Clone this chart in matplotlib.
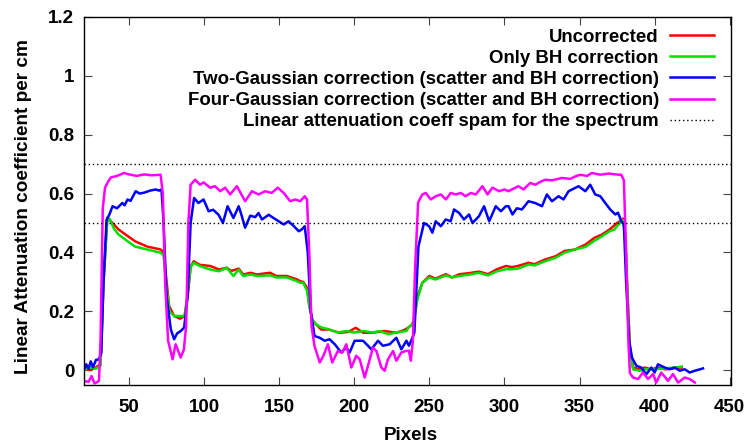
import matplotlib.pyplot as plt

plt.rcParams['font.family'] = ['Liberation Sans', 'DejaVu Sans']
plt.rcParams['font.weight'] = 'bold'

# Uncorrected
x_unc = [20, 24, 28, 31, 33, 35.5, 38, 43, 49, 54, 62, 71, 73, 75, 76.7, 80, 84, 87, 89, 91,
         93, 97, 104, 110, 115, 118, 123, 126, 131, 135, 144, 148, 155, 162, 164, 166, 168.5, 170,
         172, 174.5, 178, 183, 190, 196, 200.9, 206, 212, 220, 228, 233.6, 236, 238.7, 240, 242,
         245.3, 250, 254, 261, 265, 270, 277, 283, 289, 295, 301, 305, 309, 316, 320, 327, 334, 340,
         347, 354, 360, 365, 370, 375, 377, 379, 380.5, 382, 383.5, 385.6, 390, 393, 398, 402, 407,
         412, 418]
y_unc = [0.005, 0.0, 0.01, 0.02, 0.3, 0.518, 0.505, 0.478, 0.456, 0.438, 0.42, 0.41, 0.40, 0.3,
         0.218, 0.184, 0.175, 0.184, 0.25, 0.35, 0.37, 0.358, 0.354, 0.342, 0.348, 0.337, 0.345,
         0.325, 0.331, 0.325, 0.331, 0.32, 0.32, 0.308, 0.302, 0.30, 0.28, 0.22, 0.17, 0.156, 0.138,
         0.138, 0.127, 0.13, 0.144, 0.127, 0.127, 0.133, 0.127, 0.137, 0.145, 0.156, 0.18, 0.25,
         0.297, 0.32, 0.311, 0.326, 0.315, 0.326, 0.33, 0.335, 0.326, 0.343, 0.354, 0.35, 0.354,
         0.365, 0.36, 0.376, 0.387, 0.405, 0.41, 0.427, 0.45, 0.461, 0.478, 0.50, 0.506, 0.515,
         0.45, 0.25, 0.08, 0.009, 0.003, 0.009, 0.003, 0.009, 0.003, 0.006, 0.009]

# Only BH correction
x_bh = [20, 24, 28, 31, 33, 35.5, 37, 40, 43, 49, 54, 62, 71, 73, 75, 77, 80, 84, 87, 89, 91, 93,
        97, 104, 110, 115, 119.5, 123, 126, 131, 135, 144, 148, 155, 162, 164, 166, 168.5, 170, 172,
        174.5, 178, 183, 189, 194.7, 200, 206, 212, 217, 222.5, 228, 234.7, 236, 238.7, 240, 242,
        245.3, 250, 254, 261, 265, 270, 277, 283, 289, 295, 301, 305, 309, 316, 320, 327, 334, 340,
        347, 354, 360, 365, 370, 373.3, 375, 377, 379, 380.5, 382, 383.5, 385.6, 390, 394, 400, 407,
        413, 418]
y_bh = [0.0, 0.01, 0.005, 0.015, 0.3, 0.51, 0.515, 0.48, 0.461, 0.438, 0.42, 0.41, 0.399, 0.39,
        0.28, 0.2, 0.184, 0.184, 0.184, 0.26, 0.35, 0.365, 0.354, 0.342, 0.336, 0.348, 0.32, 0.342,
        0.32, 0.325, 0.32, 0.322, 0.315, 0.315, 0.302, 0.297, 0.297, 0.27, 0.22, 0.17, 0.156, 0.145,
        0.139, 0.128, 0.133, 0.128, 0.133, 0.128, 0.133, 0.122, 0.128, 0.133, 0.145, 0.156, 0.18,
        0.24, 0.297, 0.315, 0.308, 0.322, 0.315, 0.32, 0.325, 0.331, 0.322, 0.336, 0.343, 0.343,
        0.345, 0.359, 0.356, 0.37, 0.382, 0.399, 0.41, 0.419, 0.44, 0.455, 0.472, 0.478, 0.49, 0.5,
        0.51, 0.44, 0.24, 0.07, 0.003, -0.002, 0.003, 0.003, 0.006, 0.009, 0.012]

# Two-Gaussian correction
x_two = [20, 21.5, 23, 24.5, 26, 28, 30, 31.5, 33, 35, 37, 39, 42, 45.5, 47, 49, 51, 54.4, 57, 60,
         64, 67.8, 70, 71.6, 73, 75, 77.8, 80, 82, 84.4, 86.7, 89, 91, 93.3, 96.2, 99.6, 103, 106,
         109.6, 112.5, 115.6, 119.5, 123, 125, 127.3, 130.7, 134, 136.2, 138.5, 143, 146.2, 149.6,
         153, 156.2, 159.6, 163, 165, 167, 169, 171, 173.5, 177, 180.2, 183.5, 187, 191.3, 194.7,
         196.9, 200.2, 205.8, 209.1, 211.3, 215.8, 219, 223.5, 228, 231.3, 234.7, 236.4, 238.7, 240,
         242.7, 246.4, 249.8, 252, 254.2, 257.6, 260.9, 264.2, 266.4, 269.8, 273, 276.4, 278.7, 283,
         286.4, 289.8, 294.2, 297.6, 300.9, 302.7, 305.3, 308.2, 311.6, 316, 320.4, 325, 328.2,
         331.6, 336, 339.3, 342.7, 347, 349.3, 353.8, 357.1, 360.4, 363.8, 367.1, 370.4, 373.8,
         375.6, 377.8, 379.5, 381, 383, 384.9, 387.8, 391, 394.4, 397.8, 400, 402.2, 406.7, 410,
         413.3, 416.7, 420, 423.3, 426.7, 430, 432.2]
y_two = [0.0, 0.02, 0.005, 0.03, 0.01, 0.035, 0.037, 0.06, 0.3, 0.51, 0.53, 0.557, 0.55, 0.568,
         0.56, 0.58, 0.575, 0.608, 0.6, 0.603, 0.61, 0.614, 0.61, 0.614, 0.5, 0.25, 0.139, 0.105,
         0.125, 0.133, 0.145, 0.25, 0.5, 0.585, 0.568, 0.58, 0.54, 0.545, 0.528, 0.5, 0.557, 0.517,
         0.557, 0.525, 0.484, 0.525, 0.52, 0.534, 0.512, 0.528, 0.517, 0.506, 0.495, 0.506, 0.49,
         0.472, 0.478, 0.489, 0.4, 0.2, 0.116, 0.11, 0.1, 0.105, 0.088, 0.06, 0.077, 0.06, 0.1, 0.1,
         0.083, 0.071, 0.1, 0.083, 0.088, 0.11, 0.071, 0.1, 0.083, 0.11, 0.128, 0.42, 0.5, 0.489,
         0.467, 0.506, 0.489, 0.512, 0.506, 0.546, 0.534, 0.512, 0.529, 0.5, 0.523, 0.557, 0.506,
         0.557, 0.54, 0.557, 0.557, 0.529, 0.55, 0.546, 0.574, 0.568, 0.557, 0.597, 0.574, 0.591,
         0.58, 0.608, 0.619, 0.625, 0.608, 0.63, 0.597, 0.591, 0.568, 0.546, 0.529, 0.535, 0.506,
         0.495, 0.3, 0.1, 0.043, 0.015, 0.009, -0.014, 0.009, -0.008, 0.02, 0.009, 0.003, 0.009,
         -0.002, 0.003, -0.008, -0.002, 0.003, 0.006]

# Four-Gaussian correction
x_four = [20, 23, 25, 27, 29, 30, 31, 32.5, 34, 36, 38, 42, 46.7, 50, 55, 60, 65, 71, 72.5, 74, 76,
          79, 81, 84.4, 86.5, 88, 89.5, 91, 94, 97.3, 99.6, 104, 107.3, 110.7, 114, 117.3, 121.8,
          127.3, 131.8, 136.2, 140.7, 145, 149, 153, 157.3, 160.7, 164, 167, 168.5, 170, 171.5,
          173.5, 177, 179.5, 182.4, 185.3, 189, 192, 194.7, 198, 201.3, 203.6, 206.9, 209.1, 212.4,
          214.7, 218, 220.2, 222.4, 225.8, 228, 231.3, 234.2, 236.4, 237.6, 239, 240.5, 242.5, 245.3,
          247.6, 250.9, 254.2, 257.6, 261, 264.2, 267.6, 271, 274, 277.6, 280.9, 285.3, 288.7, 292,
          296.4, 300, 302.7, 305.3, 309.3, 312.7, 317.1, 320.4, 324, 327.1, 331.6, 338.2, 343.8,
          347.1, 350.4, 355, 358.2, 363.8, 369.3, 376, 377.8, 379.5, 381, 382.5, 383.5, 385.6, 389,
          392.2, 395.6, 399, 401, 404.4, 408.9, 412.2, 415.6, 420, 423.3, 426.7]
y_four = [-0.036, -0.04, -0.02, -0.045, -0.04, -0.035, 0.1, 0.55, 0.62, 0.64, 0.655, 0.66, 0.67,
          0.665, 0.66, 0.665, 0.662, 0.664, 0.6, 0.3, 0.1, 0.037, 0.088, 0.043, 0.07, 0.15, 0.5, 0.63,
          0.647, 0.63, 0.638, 0.62, 0.625, 0.608, 0.62, 0.597, 0.625, 0.574, 0.608, 0.597, 0.608,
          0.602, 0.62, 0.602, 0.574, 0.58, 0.574, 0.591, 0.58, 0.4, 0.15, 0.082, 0.026, 0.05, 0.088,
          0.026, 0.065, 0.06, 0.088, 0.009, 0.049, 0.037, -0.025, 0.015, 0.077, 0.065, 0.009, -0.002,
          0.037, 0.065, 0.032, 0.06, 0.065, 0.066, 0.032, 0.1, 0.35, 0.57, 0.597, 0.602, 0.58, 0.591,
          0.597, 0.58, 0.602, 0.597, 0.602, 0.591, 0.602, 0.597, 0.625, 0.597, 0.62, 0.608, 0.614,
          0.608, 0.615, 0.625, 0.614, 0.636, 0.63, 0.64, 0.647, 0.645, 0.653, 0.65, 0.658, 0.664,
          0.66, 0.67, 0.664, 0.668, 0.664, 0.664, 0.645, 0.4, 0.1, -0.01, -0.025, -0.03, -0.008,
          -0.03, -0.013, -0.042, -0.008, -0.036, -0.013, -0.042, -0.025, -0.03, -0.042]

spam_levels = [0.7, 0.5]

labels = ["Uncorrected", "Only BH correction",
          "Two-Gaussian correction (scatter and BH correction)",
          "Four-Gaussian correction (scatter and BH correction)",
          "Linear attenuation coeff spam for the spectrum"]

fig = plt.figure(figsize=(7.5, 4.46), dpi=100)
ax = fig.add_axes([0.112, 0.137, 0.863, 0.825])

ax.plot(x_unc, y_unc, color='#ff0000', lw=1.8, label=labels[0])
ax.plot(x_bh, y_bh, color='#00e000', lw=1.8, label=labels[1])
ax.plot(x_two, y_two, color='#0000ff', lw=1.8, label=labels[2])
ax.plot(x_four, y_four, color='#ff00ff', lw=1.8, label=labels[3])
for i, lev in enumerate(spam_levels):
    ax.axhline(lev, color='black', lw=1, ls=(0, (1, 2)),
               label=labels[4] if i == 0 else None)

ax.set_xlim(20, 451)
ax.set_ylim(-0.05, 1.2)
ax.set_xticks(range(50, 451, 50))
ax.set_yticks([0, 0.2, 0.4, 0.6, 0.8, 1.0, 1.2])
ax.set_yticklabels(["0", "0.2", "0.4", "0.6", "0.8", "1", "1.2"])
ax.tick_params(direction='in', length=6, top=True, right=True, labelsize=13.5, width=0.8,
               color='#444444')
ax.tick_params(axis='x', pad=10)
ax.tick_params(axis='y', pad=7)
for s in ax.spines.values():
    s.set_linewidth(1)

ax.set_xlabel("Pixels", fontsize=13.5, fontweight='bold')
ax.set_ylabel("Linear Attenuation coefficient per cm", fontsize=13.7, fontweight='bold')
ax.xaxis.set_label_coords(0.505, -0.115)
ax.yaxis.set_label_coords(-0.08, 0.484)

# gnuplot style key: text right-aligned, sample line after the text
leg = ax.legend(loc='upper right', bbox_to_anchor=(0.9735, 0.968), markerfirst=False,
                frameon=False, fontsize=13.4, handlelength=2.35, handletextpad=0.62,
                labelspacing=0.22, borderaxespad=0, borderpad=0)

fig.savefig("out.png", dpi=100)
